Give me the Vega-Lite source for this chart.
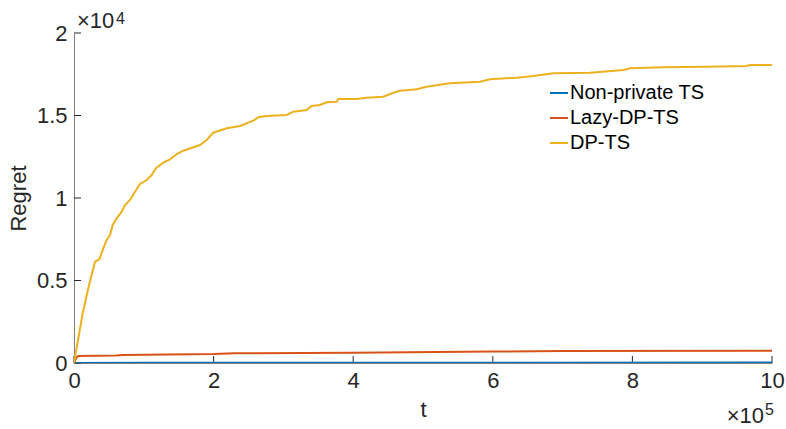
{
  "$schema": "https://vega.github.io/schema/vega-lite/v6.json",
  "width": 698,
  "height": 330,
  "autosize": "none",
  "padding": {"left": 74, "top": 33, "right": 14, "bottom": 66},
  "background": "white",
  "config": {
    "view": {"stroke": null},
    "font": "Liberation Sans"
  },
  "datasets": {
    "curves": [
      {"series": "Non-private TS", "t": 0, "regret": 0},
      {"series": "Non-private TS", "t": 100000, "regret": 10},
      {"series": "Non-private TS", "t": 500000, "regret": 20},
      {"series": "Non-private TS", "t": 1000000, "regret": 30},
      {"series": "Lazy-DP-TS", "t": 0, "regret": 0},
      {"series": "Lazy-DP-TS", "t": 3000, "regret": 300},
      {"series": "Lazy-DP-TS", "t": 6000, "regret": 424},
      {"series": "Lazy-DP-TS", "t": 60000, "regret": 450},
      {"series": "Lazy-DP-TS", "t": 70000, "regret": 490},
      {"series": "Lazy-DP-TS", "t": 200000, "regret": 545},
      {"series": "Lazy-DP-TS", "t": 230000, "regret": 590},
      {"series": "Lazy-DP-TS", "t": 400000, "regret": 615},
      {"series": "Lazy-DP-TS", "t": 600000, "regret": 690},
      {"series": "Lazy-DP-TS", "t": 700000, "regret": 730},
      {"series": "Lazy-DP-TS", "t": 1000000, "regret": 745},
      {"series": "DP-TS", "t": 0, "regret": 0},
      {"series": "DP-TS", "t": 12460, "regret": 3012},
      {"series": "DP-TS", "t": 20490, "regret": 4527},
      {"series": "DP-TS", "t": 30090, "regret": 6139},
      {"series": "DP-TS", "t": 36250, "regret": 6285},
      {"series": "DP-TS", "t": 41980, "regret": 6952},
      {"series": "DP-TS", "t": 46850, "regret": 7455},
      {"series": "DP-TS", "t": 51580, "regret": 7758},
      {"series": "DP-TS", "t": 55440, "regret": 8364},
      {"series": "DP-TS", "t": 61170, "regret": 8770},
      {"series": "DP-TS", "t": 68340, "regret": 9170},
      {"series": "DP-TS", "t": 73070, "regret": 9576},
      {"series": "DP-TS", "t": 80230, "regret": 9879},
      {"series": "DP-TS", "t": 87390, "regret": 10382},
      {"series": "DP-TS", "t": 94560, "regret": 10848},
      {"series": "DP-TS", "t": 104150, "regret": 11091},
      {"series": "DP-TS", "t": 111320, "regret": 11394},
      {"series": "DP-TS", "t": 117480, "regret": 11800},
      {"series": "DP-TS", "t": 127940, "regret": 12139},
      {"series": "DP-TS", "t": 137540, "regret": 12345},
      {"series": "DP-TS", "t": 147130, "regret": 12667},
      {"series": "DP-TS", "t": 156590, "regret": 12867},
      {"series": "DP-TS", "t": 180520, "regret": 13212},
      {"series": "DP-TS", "t": 190110, "regret": 13515},
      {"series": "DP-TS", "t": 199570, "regret": 13958},
      {"series": "DP-TS", "t": 218770, "regret": 14224},
      {"series": "DP-TS", "t": 237820, "regret": 14364},
      {"series": "DP-TS", "t": 256880, "regret": 14685},
      {"series": "DP-TS", "t": 264040, "regret": 14891},
      {"series": "DP-TS", "t": 276070, "regret": 14970},
      {"series": "DP-TS", "t": 304730, "regret": 15030},
      {"series": "DP-TS", "t": 314180, "regret": 15230},
      {"series": "DP-TS", "t": 333380, "regret": 15333},
      {"series": "DP-TS", "t": 340540, "regret": 15576},
      {"series": "DP-TS", "t": 352440, "regret": 15636},
      {"series": "DP-TS", "t": 362030, "regret": 15800},
      {"series": "DP-TS", "t": 376360, "regret": 15836},
      {"series": "DP-TS", "t": 378650, "regret": 16000},
      {"series": "DP-TS", "t": 405010, "regret": 16000},
      {"series": "DP-TS", "t": 419340, "regret": 16079},
      {"series": "DP-TS", "t": 443120, "regret": 16139},
      {"series": "DP-TS", "t": 457450, "regret": 16382},
      {"series": "DP-TS", "t": 467050, "regret": 16503},
      {"series": "DP-TS", "t": 490970, "regret": 16588},
      {"series": "DP-TS", "t": 505300, "regret": 16745},
      {"series": "DP-TS", "t": 529080, "regret": 16891},
      {"series": "DP-TS", "t": 538680, "regret": 16952},
      {"series": "DP-TS", "t": 581660, "regret": 17048},
      {"series": "DP-TS", "t": 595990, "regret": 17194},
      {"series": "DP-TS", "t": 634240, "regret": 17291},
      {"series": "DP-TS", "t": 658020, "regret": 17394},
      {"series": "DP-TS", "t": 686680, "regret": 17558},
      {"series": "DP-TS", "t": 739260, "regret": 17594},
      {"series": "DP-TS", "t": 786960, "regret": 17758},
      {"series": "DP-TS", "t": 796560, "regret": 17861},
      {"series": "DP-TS", "t": 844270, "regret": 17921},
      {"series": "DP-TS", "t": 906450, "regret": 17958},
      {"series": "DP-TS", "t": 963750, "regret": 18000},
      {"series": "DP-TS", "t": 968480, "regret": 18061},
      {"series": "DP-TS", "t": 1000000, "regret": 18061}
    ],
    "xticks": [{"v": 0}, {"v": 200000}, {"v": 400000}, {"v": 600000}, {"v": 800000}, {"v": 1000000}],
    "yticks": [{"v": 0}, {"v": 5000}, {"v": 10000}, {"v": 15000}, {"v": 20000}],
    "one": [{"id": 1}]
  },
  "layer": [
    {
      "data": {"name": "xticks"},
      "mark": {"type": "rule", "color": "#262626", "strokeWidth": 1},
      "encoding": {
        "x": {"field": "v", "type": "quantitative"},
        "y": {"datum": 0},
        "y2": {"datum": 424}
      }
    },
    {
      "data": {"name": "yticks"},
      "mark": {"type": "rule", "color": "#262626", "strokeWidth": 1},
      "encoding": {
        "y": {"field": "v", "type": "quantitative"},
        "x": {"datum": 0},
        "x2": {"datum": 10029}
      }
    },
    {
      "data": {"name": "curves"},
      "mark": {"type": "line", "strokeWidth": 2, "clip": true},
      "encoding": {
        "x": {
          "field": "t", "type": "quantitative",
          "scale": {"domain": [0, 1000000], "nice": false, "zero": false},
          "axis": {
            "values": [0, 200000, 400000, 600000, 800000, 1000000],
            "labelExpr": "datum.value / 100000",
            "grid": false,
            "ticks": false,
            "domainColor": "#808080",
            "labelFlush": false,
            "labelFont": "Liberation Sans",
            "labelFontSize": 22,
            "labelColor": "#262626",
            "labelPadding": 7,
            "title": "t",
            "titleFont": "Liberation Sans",
            "titleFontSize": 22,
            "titleFontWeight": "normal",
            "titleColor": "#262626",
            "titlePadding": 8
          }
        },
        "y": {
          "field": "regret", "type": "quantitative",
          "scale": {"domain": [0, 20000], "nice": false},
          "axis": {
            "values": [0, 5000, 10000, 15000, 20000],
            "labelExpr": "datum.value / 10000",
            "grid": false,
            "ticks": false,
            "domainColor": "#808080",
            "labelFlush": false,
            "labelFont": "Liberation Sans",
            "labelFontSize": 22,
            "labelColor": "#262626",
            "labelPadding": 7,
            "title": "Regret",
            "titleFont": "Liberation Sans",
            "titleFontSize": 22,
            "titleFontWeight": "normal",
            "titleColor": "#262626",
            "titlePadding": 6
          }
        },
        "color": {
          "field": "series", "type": "nominal",
          "scale": {
            "domain": ["Non-private TS", "Lazy-DP-TS", "DP-TS"],
            "range": ["#0072BD", "#D95319", "#EDB120"]
          },
          "legend": {
            "title": null,
            "orient": "none",
            "legendX": 475,
            "legendY": 50,
            "padding": 0,
            "symbolType": "stroke",
            "symbolSize": 324,
            "symbolStrokeWidth": 2,
            "labelFont": "Liberation Sans",
            "labelFontSize": 20,
            "labelColor": "#000000",
            "labelOffset": 1,
            "rowPadding": 5
          }
        }
      }
    },
    {
      "data": {"name": "one"},
      "mark": {"type": "text", "align": "left", "baseline": "alphabetic", "dx": 3, "dy": -5, "fontSize": 22, "fontWeight": "normal", "font": "Liberation Sans", "color": "#262626"},
      "encoding": {"x": {"datum": 0}, "y": {"datum": 20000}, "text": {"value": "×10"}}
    },
    {
      "data": {"name": "one"},
      "mark": {"type": "text", "align": "left", "baseline": "alphabetic", "dx": 42, "dy": -9, "fontSize": 16, "fontWeight": "normal", "font": "Liberation Sans", "color": "#262626"},
      "encoding": {"x": {"datum": 0}, "y": {"datum": 20000}, "text": {"value": "4"}}
    },
    {
      "data": {"name": "one"},
      "mark": {"type": "text", "align": "right", "baseline": "alphabetic", "dx": -8, "dy": 60, "fontSize": 22, "fontWeight": "normal", "font": "Liberation Sans", "color": "#262626"},
      "encoding": {"x": {"datum": 1000000}, "y": {"datum": 0}, "text": {"value": "×10"}}
    },
    {
      "data": {"name": "one"},
      "mark": {"type": "text", "align": "right", "baseline": "alphabetic", "dx": 2, "dy": 52, "fontSize": 16, "fontWeight": "normal", "font": "Liberation Sans", "color": "#262626"},
      "encoding": {"x": {"datum": 1000000}, "y": {"datum": 0}, "text": {"value": "5"}}
    }
  ]
}
